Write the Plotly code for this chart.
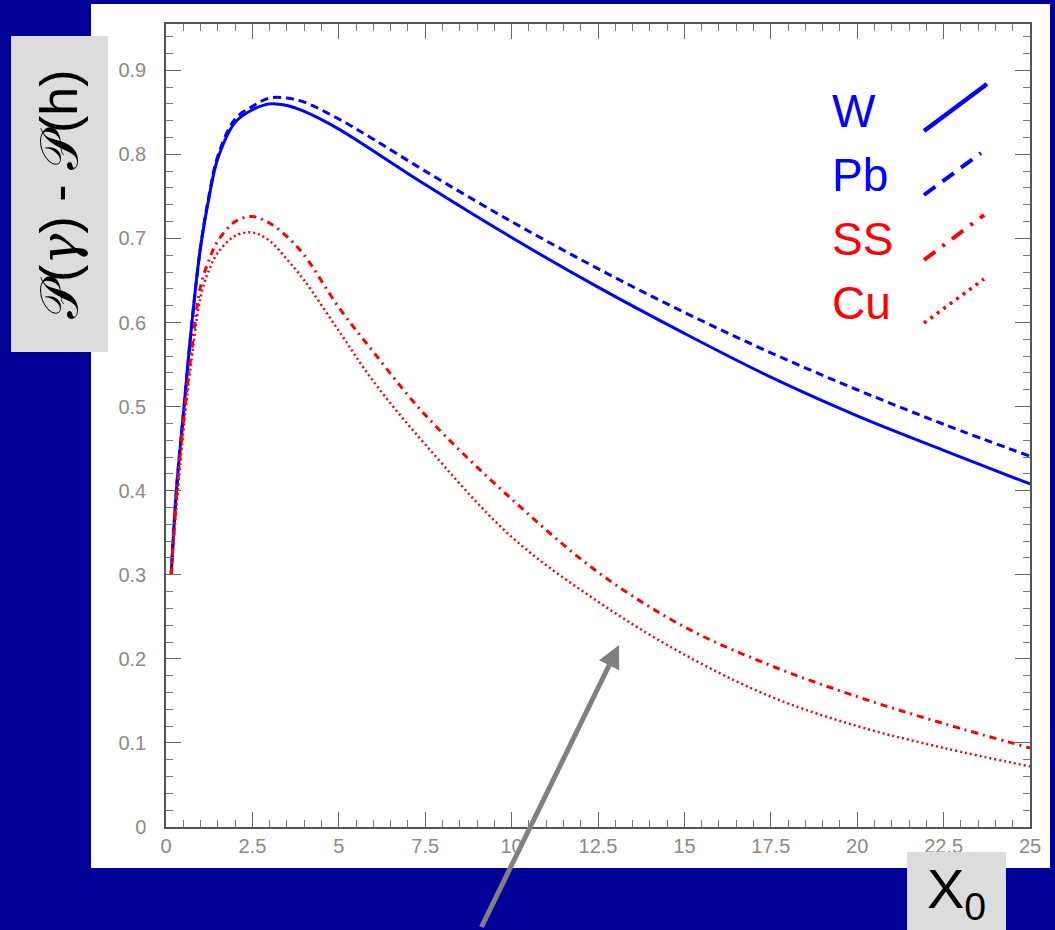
import plotly.graph_objects as go

# ---------------- data ----------------
x_w = [0.15, 0.3, 0.5, 0.75, 1.0, 1.25, 1.5, 2.0, 2.5, 3.0, 3.5, 4.0, 5.0, 6.0, 7.5, 10, 12.5, 15, 17.5, 20, 22.5, 25]
y_w = [0.30, 0.40, 0.49, 0.60, 0.69, 0.75, 0.795, 0.838, 0.853, 0.860, 0.858, 0.851, 0.830, 0.804, 0.764, 0.701, 0.642, 0.587, 0.535, 0.489, 0.448, 0.408]

x_pb = [0.15, 0.3, 0.5, 0.75, 1.0, 1.25, 1.5, 2.0, 2.5, 3.0, 3.5, 4.0, 5.0, 6.0, 7.5, 10, 12.5, 15, 17.5, 20, 22.5, 25]
y_pb = [0.30, 0.40, 0.49, 0.60, 0.69, 0.752, 0.798, 0.842, 0.857, 0.867, 0.867, 0.862, 0.842, 0.818, 0.780, 0.720, 0.664, 0.612, 0.564, 0.520, 0.479, 0.441]

x_ss = [0.15, 0.3, 0.5, 0.75, 1.0, 1.25, 1.5, 2.0, 2.5, 3.0, 3.5, 4.0, 5.0, 6.0, 7.5, 10, 12.5, 15, 17.5, 20, 22.5, 25]
y_ss = [0.30, 0.39, 0.48, 0.57, 0.643, 0.675, 0.697, 0.720, 0.726, 0.718, 0.702, 0.680, 0.618, 0.565, 0.490, 0.390, 0.303, 0.238, 0.192, 0.155, 0.123, 0.094]

x_cu = [0.15, 0.3, 0.5, 0.75, 1.0, 1.25, 1.5, 2.0, 2.5, 3.0, 3.5, 4.0, 5.0, 6.0, 7.5, 10, 12.5, 15, 17.5, 20, 22.5, 25]
y_cu = [0.30, 0.38, 0.47, 0.56, 0.63, 0.663, 0.683, 0.703, 0.707, 0.697, 0.675, 0.650, 0.590, 0.530, 0.455, 0.345, 0.268, 0.205, 0.155, 0.120, 0.094, 0.072]

series_names = ["W", "Pb", "SS", "Cu"]
series_colors = ["#0000ff", "#0000ff", "#ff0000", "#ff0000"]

x_ticks = [0, 2.5, 5, 7.5, 10, 12.5, 15, 17.5, 20, 22.5, 25]
x_ticklabels = ["0", "2.5", "5", "7.5", "10", "12.5", "15", "17.5", "20", "22.5", "25"]
y_ticks = [0, 0.1, 0.2, 0.3, 0.4, 0.5, 0.6, 0.7, 0.8, 0.9]
y_ticklabels = ["0", "0.1", "0.2", "0.3", "0.4", "0.5", "0.6", "0.7", "0.8", "0.9"]

# ---------------- layout geometry ----------------
W, H = 1055, 930
L, R, T, B = 166, 1030, 24, 827
PW, PH = R - L, B - T
Y_MAX = 0.955


def px(xp):
    return (xp - L) / PW


def py(yp):
    return (B - yp) / PH


BG = "#000099"

fig = go.Figure()

styles = [
    dict(width=3, dash="solid"),
    dict(width=3, dash="8px,5px"),
    dict(width=3, dash="7px,5px,2px,5px"),
    dict(width=2.5, dash="2px,3px"),
]
for xs, ys, nm, col, st in zip([x_w, x_pb, x_ss, x_cu], [y_w, y_pb, y_ss, y_cu],
                               series_names, series_colors, styles):
    fig.add_trace(go.Scatter(x=xs, y=ys, name=nm, mode="lines",
                             line=dict(color=col, width=st["width"], dash=st["dash"], shape="spline", smoothing=1.0),
                             showlegend=False))

shapes = [
    # white panel
    dict(type="rect", xref="paper", yref="paper", x0=px(91), x1=px(1050), y0=py(868), y1=py(4),
         fillcolor="white", line=dict(width=0), layer="below"),
    # y title box
    dict(type="rect", xref="paper", yref="paper", x0=px(11), x1=px(108), y0=py(352), y1=py(36),
         fillcolor="#dcdcdc", line=dict(width=0), layer="below"),
    # x title box
    dict(type="rect", xref="paper", yref="paper", x0=px(907), x1=px(1006), y0=py(932), y1=py(852),
         fillcolor="#dcdcdc", line=dict(width=0), layer="above"),
]

# legend samples
leg_lines = [
    ((924, 131), (987, 84), 4.5, "solid"),
    ((924, 195), (981, 153), 4, "14px,9px"),
    ((924, 260), (984, 215), 4, "14px,9px,3px,9px"),
    ((924, 323), (984, 279), 3.5, "3px,5px"),
]
for (p0, p1, wdt, dsh), col in zip(leg_lines, series_colors):
    shapes.append(dict(type="line", xref="paper", yref="paper",
                       x0=px(p0[0]), y0=py(p0[1]), x1=px(p1[0]), y1=py(p1[1]),
                       line=dict(color=col, width=wdt, dash=dsh)))

annotations = []
leg_text_y = [111, 175, 239, 303]
for nm, col, yy in zip(series_names, series_colors, leg_text_y):
    annotations.append(dict(xref="paper", yref="paper", x=px(830), y=py(yy), text=nm,
                            showarrow=False, xanchor="left", yanchor="middle",
                            font=dict(family="Liberation Sans, Arial, sans-serif", size=46, color=col)))

# axis titles
annotations.append(dict(xref="paper", yref="paper", x=px(59), y=py(194),
                        text="𝒫(<span style=\"font-family:'DejaVu Serif';font-style:italic\">γ</span>) - 𝒫(h)",
                        textangle=-90, showarrow=False,
                        xanchor="center", yanchor="middle",
                        font=dict(family="Liberation Sans, DejaVu Serif, sans-serif", size=52, color="black")))
annotations.append(dict(xref="paper", yref="paper", x=px(956), y=py(893),
                        text="X<sub>0</sub>", showarrow=False, xanchor="center", yanchor="middle",
                        font=dict(family="Liberation Sans, Arial, sans-serif", size=56, color="black")))

# arrow
ax_tip = ((619 - L) / PW * 25, (B - 645) / PH * Y_MAX)
annotations.append(dict(x=ax_tip[0], y=ax_tip[1], xref="x", yref="y", text=" ",
                        showarrow=True, ax=480 - 619, ay=930 - 645, axref="pixel", ayref="pixel",
                        arrowhead=2, arrowsize=0.9, arrowwidth=5, arrowcolor="#808080",
                        font=dict(size=2)))

tickfont = dict(family="Liberation Sans, Arial, sans-serif", size=20, color="#8a8a8a")
axis_common = dict(showline=True, linecolor="#555555", linewidth=1.5, mirror="allticks",
                   ticks="inside", ticklen=15, tickwidth=1.2, tickcolor="#666666",
                   showgrid=False, zeroline=False, tickfont=tickfont)

fig.update_layout(
    width=W, height=H,
    margin=dict(l=L, r=W - R, t=T, b=H - B),
    paper_bgcolor=BG, plot_bgcolor="white",
    shapes=shapes, annotations=annotations,
    xaxis=dict(range=[0, 25], tickvals=x_ticks, ticktext=x_ticklabels,
               minor=dict(dtick=0.5, ticks="inside", ticklen=7, tickcolor="#777777", tickwidth=1.2),
               **axis_common),
    yaxis=dict(range=[0, Y_MAX], tickvals=y_ticks, ticktext=y_ticklabels, ticklabelstandoff=14,
               minor=dict(dtick=0.02, ticks="inside", ticklen=7, tickcolor="#777777", tickwidth=1.2),
               **axis_common),
)

fig.write_html("out.html")
